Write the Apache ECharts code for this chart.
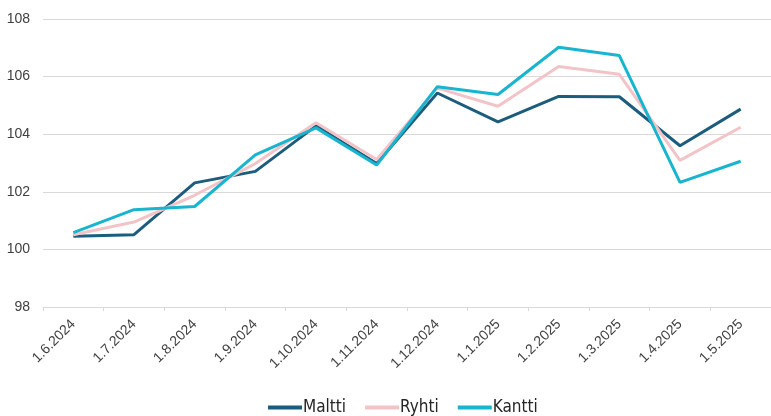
<!DOCTYPE html>
<html>
<head>
<meta charset="utf-8">
<script src="https://cdn.jsdelivr.net/npm/echarts@6/dist/echarts.min.js"></script>
<style>
html, body { margin: 0; padding: 0; background: #fff; }
#main { width: 771px; height: 416px; }
</style>
</head>
<body>
<div id="main"></div>
<script>
// 月份
var months = ['1.6.2024', '1.7.2024', '1.8.2024', '1.9.2024', '1.10.2024', '1.11.2024',
	'1.12.2024', '1.1.2025', '1.2.2025', '1.3.2025', '1.4.2025', '1.5.2025'];

// 指数值
var maltti = [100.46, 100.51, 102.31, 102.71, 104.29, 102.98, 105.43, 104.43, 105.31, 105.30, 103.60, 104.87];
var ryhti = [100.51, 100.95, 101.88, 102.98, 104.40, 103.12, 105.60, 104.97, 106.35, 106.08, 103.09, 104.24];
var kantti = [100.58, 101.38, 101.49, 103.28, 104.22, 102.93, 105.65, 105.38, 107.02, 106.73, 102.33, 103.06];

var myChart = echarts.init(document.getElementById('main'));

var mkSeries = function (name, data, color) {
	return {
		name: name,
		type: 'line',
		data: data,
		symbol: 'none',
		lineStyle: { color: color, width: 3 },
		itemStyle: { color: color }
	}
}

var option = {
	animation: false,
	grid: {
		left: 43,
		top: 19,
		width: 735,
		height: 288
	},
	legend: {
		left: 263,
		top: 394,
		itemWidth: 34,
		itemHeight: 4,
		itemGap: 19,
		icon: 'rect',
		textStyle: {
			fontFamily: "'Liberation Sans Narrow', 'DejaVu Sans Condensed', sans-serif",
			fontSize: 17,
			color: '#262626',
			padding: [0, 0, 0, -4]
		},
		data: ['Maltti', 'Ryhti', 'Kantti']
	},
	xAxis: {
		type: 'category',
		data: months,
		boundaryGap: true,
		axisLine: { lineStyle: { color: '#d9d9d9', width: 1 } },
		axisTick: { show: true, length: 4, lineStyle: { color: '#d9d9d9' } },
		axisLabel: {
			rotate: 45,
			interval: 0,
			margin: 15,
			fontSize: 14,
			color: '#404040',
			fontFamily: 'Arial, Liberation Sans, sans-serif'
		}
	},
	yAxis: {
		type: 'value',
		min: 98,
		max: 108,
		interval: 2,
		axisLine: { show: false },
		axisTick: { show: false },
		axisLabel: {
			margin: 13,
			fontSize: 14,
			color: '#404040',
			fontFamily: 'Arial, Liberation Sans, sans-serif'
		},
		splitLine: { lineStyle: { color: '#d9d9d9', width: 1 } }
	},
	series: [
		mkSeries('Maltti', maltti, '#1c5c7d'),
		mkSeries('Ryhti', ryhti, '#f2c4c8'),
		mkSeries('Kantti', kantti, '#19b4cd')
	]
};

myChart.setOption(option);
</script>
</body>
</html>
